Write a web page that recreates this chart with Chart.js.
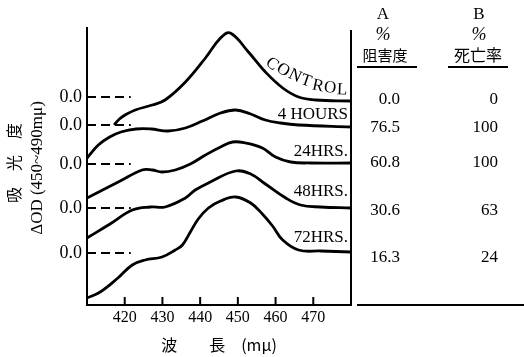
<!DOCTYPE html>
<html>
<head>
<meta charset="utf-8">
<script src="https://cdn.jsdelivr.net/npm/chart.js@4.4.1/dist/chart.umd.min.js"></script>
<style>
  body { margin: 0; background: #fff; }
  canvas { display: block; }
</style>
</head>
<body>
<canvas id="myChart" width="524" height="357"></canvas>
<script>
// wavelength (m mu) vs delta OD, each curve sits on its own offset baseline
var ctrlWave = [417.2, 418.6, 420.1, 422.8, 427.3, 430.7, 436.1, 441.4, 445.4, 448.0, 452.8, 457.3, 461.9, 466.1, 470.6, 480]
var ctrlOD   = [1.80, 1.86, 1.90, 1.95, 2.00, 2.05, 2.23, 2.47, 2.67, 2.72, 2.53, 2.33, 2.17, 2.08, 2.05, 2.04]

var h4Wave = [410, 413, 416, 419, 423, 427, 431.5, 436.1, 440.6, 445.4, 449.4, 453.4, 457.3, 461.3, 466.1, 480]
var h4OD   = [1.47, 1.60, 1.68, 1.73, 1.76, 1.76, 1.74, 1.77, 1.84, 1.92, 1.95, 1.91, 1.85, 1.82, 1.80, 1.78]

var h24Wave = [410, 418.8, 424.6, 427.3, 429.9, 433.4, 437.4, 441.4, 445.4, 448.6, 452.0, 456.5, 460.0, 464.0, 469.3, 480]
var h24OD   = [1.07, 1.24, 1.35, 1.35, 1.33, 1.35, 1.41, 1.50, 1.58, 1.63, 1.62, 1.57, 1.48, 1.43, 1.42, 1.42]

var h48Wave = [410, 416.1, 422.0, 426.8, 430.7, 436.1, 438.7, 442.7, 449.4, 453.4, 457.3, 462.7, 466.6, 471.9, 480]
var h48OD   = [0.67, 0.81, 0.95, 0.98, 0.98, 1.07, 1.15, 1.23, 1.34, 1.31, 1.21, 1.07, 1.00, 0.98, 0.97]

var h72Wave = [410, 413.5, 418.2, 422.0, 425.4, 429.9, 433.4, 435.3, 437.4, 439.5, 442.2, 445.4, 449.4, 453.4, 456.5, 459.2, 461.9, 466.1, 472.0, 480]
var h72OD   = [0.07, 0.13, 0.27, 0.40, 0.45, 0.48, 0.55, 0.60, 0.73, 0.86, 0.97, 1.04, 1.08, 1.02, 0.91, 0.79, 0.65, 0.55, 0.54, 0.53]

var curveNames = ['CONTROL', '4 HOURS', '24HRS.', '48HRS.', '72HRS.']
var baselines = [2.08, 1.80, 1.41, 0.97, 0.52]   // the "0.0" level of each curve
var inhibition = ['0.0', '76.5', '60.8', '30.6', '16.3']   // A  % 阻害度
var mortality = ['0', '100', '100', '63', '24']            // B  % 死亡率
var xTicks = [420, 430, 440, 450, 460, 470]

var serif = '"Liberation Serif", "DejaVu Serif", serif'
var jp = '"Noto Sans CJK JP", sans-serif'

function pts(w, v) { return w.map((x, i) => ({x: x, y: v[i]})) }

var curves = [[ctrlWave, ctrlOD], [h4Wave, h4OD], [h24Wave, h24OD], [h48Wave, h48OD], [h72Wave, h72OD]]
var datasets = []
curves.forEach(function(c, i) {
  datasets.push({
    label: curveNames[i],
    data: pts(c[0], c[1]),
    borderColor: '#000',
    borderWidth: 2.8,
    pointRadius: 0,
    tension: 0.4,
    fill: false
  })
})
// short dashed zero lines off the left axis
baselines.forEach(function(b) {
  datasets.push({
    label: 'zero',
    data: [{x: 410, y: b}, {x: 421.6, y: b}],
    borderColor: '#000',
    borderWidth: 2,
    borderDash: [9, 5],
    pointRadius: 0
  })
})

var decor = {
  id: 'decor',
  afterDraw: function(chart) {
    var ctx = chart.ctx
    var a = chart.chartArea
    var xs = chart.scales.x
    ctx.save()
    ctx.strokeStyle = '#000'
    ctx.fillStyle = '#000'
    ctx.lineWidth = 2
    // inward ticks
    xTicks.forEach(function(t) {
      var px = xs.getPixelForValue(t)
      ctx.beginPath(); ctx.moveTo(px, a.bottom); ctx.lineTo(px, a.bottom - 8); ctx.stroke()
    })
    // right frame line + table base line
    ctx.beginPath(); ctx.moveTo(a.right, a.top + 2); ctx.lineTo(a.right, a.bottom); ctx.stroke()
    ctx.beginPath(); ctx.moveTo(357, a.bottom); ctx.lineTo(524, a.bottom); ctx.stroke()

    // y titles
    ctx.save()
    ctx.translate(14, 163); ctx.rotate(-Math.PI / 2)
    ctx.textAlign = 'center'; ctx.textBaseline = 'middle'
    ctx.font = '16px ' + jp
    ctx.fillText('吸　光　度', 0, 0)
    ctx.restore()
    ctx.save()
    ctx.translate(38, 168); ctx.rotate(-Math.PI / 2)
    ctx.textAlign = 'center'; ctx.textBaseline = 'middle'
    ctx.font = '17px ' + serif
    ctx.fillText('ΔOD (450~490mμ)', 0, 0)
    ctx.restore()

    // curve labels
    ctx.font = '17px ' + serif
    ctx.textAlign = 'right'; ctx.textBaseline = 'middle'
    var labY = [0, 115, 152, 192, 238]
    for (var i = 1; i < curveNames.length; i++) ctx.fillText(curveNames[i], 348, labY[i])
    // CONTROL written along the falling curve
    var cx = [272, 283, 295, 306, 318, 330, 342]
    var cy = [64, 70, 76, 81, 86, 88, 90]
    var rot = [40, 33, 26, 19, 12, 6, 2]
    ctx.textAlign = 'center'
    ctx.font = '17px ' + serif
    'CONTROL'.split('').forEach(function(ch, k) {
      ctx.save(); ctx.translate(cx[k], cy[k]); ctx.rotate(rot[k] * Math.PI / 180)
      ctx.fillText(ch, 0, 0); ctx.restore()
    })

    // table
    ctx.textAlign = 'center'
    ctx.font = '17px ' + serif
    ctx.fillText('A', 383, 15); ctx.fillText('B', 479, 15)
    ctx.font = 'italic 18px ' + serif
    ctx.fillText('%', 383, 35); ctx.fillText('%', 479, 35)
    ctx.font = '15px ' + jp
    ctx.fillText('阻害度', 385, 55)
    ctx.font = '16px ' + jp
    ctx.fillText('死亡率', 478, 55)
    ctx.beginPath(); ctx.moveTo(357, 67); ctx.lineTo(417, 67); ctx.stroke()
    ctx.beginPath(); ctx.moveTo(448, 67); ctx.lineTo(508, 67); ctx.stroke()
    ctx.font = '17px ' + serif
    var rowY = [100, 128, 163, 211, 258]
    ctx.textAlign = 'right'
    inhibition.forEach(function(v, k) { ctx.fillText(v, 400, rowY[k]) })
    mortality.forEach(function(v, k) { ctx.fillText(v, 498, rowY[k]) })
    ctx.restore()
  }
}

var ctx = document.getElementById('myChart').getContext('2d')
var chartOne = new Chart(ctx, {
  type: 'line',
  data: { datasets: datasets },
  options: {
    responsive: false,
    animation: false,
    devicePixelRatio: 1,
    layout: { padding: { top: 28, right: 173, bottom: 0, left: 0 } },
    plugins: { legend: { display: false }, tooltip: { enabled: false } },
    scales: {
      x: {
        type: 'linear', min: 410, max: 480,
        afterBuildTicks: function(s) { s.ticks = xTicks.map(v => ({value: v})) },
        afterFit: function(s) { s.height = 52 },
        grid: { display: false, drawTicks: false },
        border: { display: true, color: '#000', width: 2 },
        ticks: { color: '#000', padding: 3, maxRotation: 0, font: { family: serif, size: 16 } },
        title: { display: true, text: '波　　長　(mμ)', color: '#000', padding: { top: 0, bottom: 2 },
                 font: { family: jp, size: 16 } }
      },
      y: {
        min: 0, max: 2.77,
        afterBuildTicks: function(s) { s.ticks = baselines.map(v => ({value: v})) },
        afterFit: function(s) { s.width = 87 },
        grid: { display: false, drawTicks: false },
        border: { display: true, color: '#000', width: 2 },
        ticks: { color: '#000', padding: 5, callback: function() { return '0.0' },
                 font: { family: serif, size: 18 } }
      }
    }
  },
  plugins: [decor]
})
</script>
</body>
</html>
